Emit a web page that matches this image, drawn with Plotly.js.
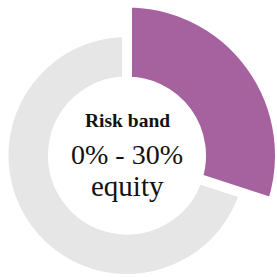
<!DOCTYPE html>
<html>
<head>
<meta charset="utf-8">
<script src="https://cdn.plot.ly/plotly-3.0.1.min.js"></script>
<style>
html,body{margin:0;padding:0;width:277px;height:277px;overflow:hidden;background:#fff;}
#chart{position:absolute;left:-61px;top:-61px;width:400px;height:400px;}
</style>
</head>
<body>
<div id="chart"></div>
<script>
// Data
var categories = ["Equity", "Other assets"];
var shares = [30, 70];
var labelLines = ["Risk band", "0% - 30%", "equity"];

var purple = "#a6619f";
var grey = "#e6e6e6";
var clear = "rgba(0,0,0,0)";

var W = 400, OFF = 61;
// ring centre on screen
var cx = 127 + OFF, cy = 155.5 + OFF;
function dom(r) {
  return {
    x: [(cx - r) / W, (cx + r) / W],
    y: [(W - cy - r) / W, (W - cy + r) / W]
  };
}
var holeR = 74;
var greyR = 123.5, purpleR = 153;

var common = {
  type: "pie",
  labels: categories,
  values: shares,
  sort: false,
  direction: "clockwise",
  rotation: 0,
  textinfo: "none",
  hoverinfo: "skip",
  showlegend: false
};

var greyTrace = Object.assign({}, common, {
  domain: dom(greyR),
  hole: holeR / greyR,
  marker: {colors: [clear, grey], line: {color: "#ffffff", width: [0, 10]}}
});
var purpleTrace = Object.assign({}, common, {
  domain: dom(purpleR),
  hole: holeR / purpleR,
  marker: {colors: [purple, clear], line: {color: "#ffffff", width: [10, 0]}}
});

function ann(text, yScreen, size, bold) {
  return {
    xref: "paper", yref: "paper",
    x: cx / W, y: (W - (yScreen + OFF)) / W,
    xanchor: "center", yanchor: "middle",
    text: bold ? "<b>" + text + "</b>" : text,
    showarrow: false,
    font: {family: "Liberation Serif, serif", size: size, color: "#121212"}
  };
}

var layout = {
  width: W, height: W,
  margin: {l: 0, r: 0, t: 0, b: 0},
  paper_bgcolor: "#ffffff",
  plot_bgcolor: "#ffffff",
  annotations: [
    ann(labelLines[0], 120.5, 19.5, true),
    ann(labelLines[1], 154.5, 28, false),
    ann(labelLines[2], 186, 29, false)
  ]
};

Plotly.newPlot("chart", [greyTrace, purpleTrace], layout, {displayModeBar: false, staticPlot: true});
</script>
</body>
</html>
